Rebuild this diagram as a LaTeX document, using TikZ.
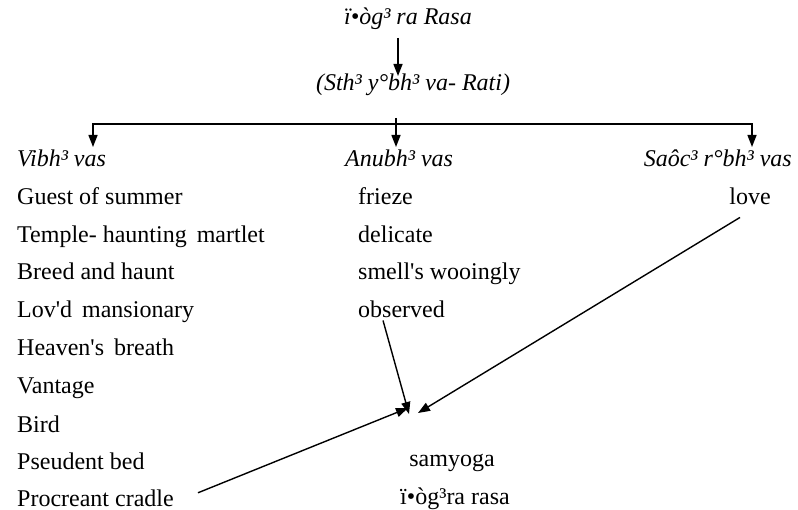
\documentclass[tikz,border=0pt]{standalone}
\usepackage{fontspec}
\setmainfont{Liberation Serif}
\usetikzlibrary{arrows.meta}
\usetikzlibrary{calc}

\newcommand{\ap}{\textquotesingle}
\tikzset{
  item/.style={anchor=base west, inner sep=2pt},
  head/.style={item, font=\fontsize{24}{28}\selectfont\itshape},
  link/.style={line width=1.4pt, -{Triangle[length=12pt,width=9pt]}}
}

\begin{document}
\begin{tikzpicture}[x=1pt, y=-1pt, font=\fontsize{24}{28}\selectfont]
                \useasboundingbox (0,0) rectangle (798,510);
                \node[head, anchor=base] (rasa) at (408,25) {ï•òg³ ra Rasa};
                \node[head, anchor=base] (sthayi) at (413,91) {(Sth³ y°bh³ va- Rati)};
                \coordinate (top1) at (398,38);
                \coordinate (top2) at (398,76);
                \draw[link] (top1) to (top2);
                \coordinate (hub) at (396,124);
                \coordinate (tipV) at (93,147);
                \coordinate (tipA) at (396,147);
                \coordinate (tipS) at (752,147);
                \draw[line width=1.4pt] ($(hub)+(0,-6)$) to (hub);
                \draw[link] (hub) -| (tipV);
                \draw[link] (hub) -- (tipA);
                \draw[link] (hub) -| (tipS);
                \node[head] (vibh) at (15,167) {Vibh³ vas};
                \node[head] (anu) at (343,167) {Anubh³ vas};
                \node[head, anchor=base east] (sanc) at (794,167) {Saôc³ r°bh³ vas};
                \node[item] (guest) at (15,205) {Guest of summer};
                \node[item] (temple) at (15,243) {Temple- haunting\, martlet};
                \node[item] (breed) at (15,280) {Breed and haunt};
                \node[item] (lovd) at (15,318) {Lov\ap d\, mansionary};
                \node[item] (heaven) at (15,356) {Heaven\ap s\, breath};
                \node[item] (vantage) at (15,394) {Vantage};
                \node[item] (bird) at (15,432) {Bird};
                \node[item] (pseud) at (15,469) {Pseudent bed};
                \node[item] (cradle) at (15,506) {Procreant cradle};
                \node[item] (frieze) at (356,205) {frieze};
                \node[item] (delic) at (356,243) {delicate};
                \node[item] (smell) at (356,280) {smell\ap s wooingly};
                \node[item] (obs) at (356,318) {observed};
                \node[anchor=base, inner sep=2pt] (love) at (750,205) {love};
                \node[anchor=base, inner sep=2pt] (samyoga) at (452,466) {samyoga};
                \node[anchor=base, inner sep=2pt] (srasa) at (455,504) {ï•òg³ra rasa};
                \coordinate (meetC) at (408,408);
                \coordinate (meetO) at (409,414);
                \coordinate (meetL) at (418,413);
                \draw[link] ($(cradle.east)+(22,-5)$) to (meetC);
                \draw[link] ($(obs.south west)+(27,0)$) to (meetO);
                \draw[link] ($(love.south)+(-10,10)$) to (meetL);
            \end{tikzpicture}
\end{document}
